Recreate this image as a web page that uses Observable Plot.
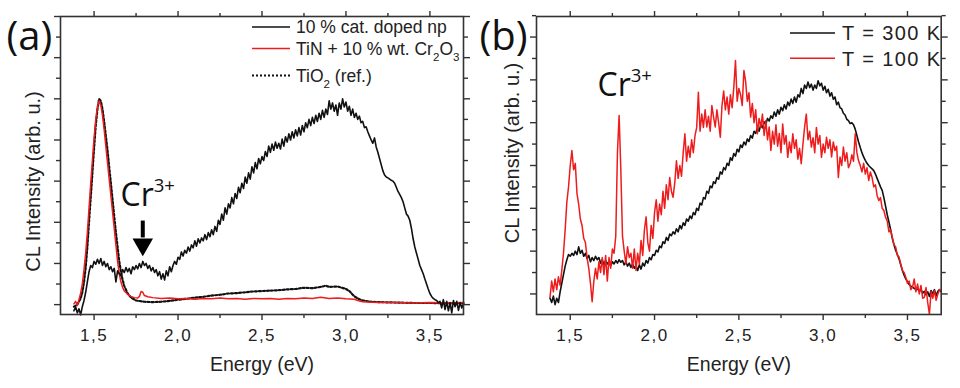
<!DOCTYPE html>
<html><head><meta charset="utf-8">
<script src="https://cdn.jsdelivr.net/npm/d3@7"></script>
<script src="https://cdn.jsdelivr.net/npm/@observablehq/plot@0.6"></script>
<style>
html,body{margin:0;padding:0;background:#fff;}
#chart{position:relative;width:960px;height:388px;overflow:hidden;background:#fff;}
#chart > svg{position:absolute;top:0;}
g[aria-label="x-axis tick label"] text{letter-spacing:1.5px;}
</style></head><body><div id="chart"></div>
<script>
// ---------- data ----------
const energyStart = 1.38, energyStep = 0.01, energyCount = 233;
const energy = d3.range(energyCount).map(i => Math.round((energyStart + i * energyStep) * 100) / 100);

// panel (a): 10 % cat. doped np (black)
const dopedNp = [-0.15,-0.05,-0.2,-0.1,-0.25,-0.05,0.1,0.3,0.55,0.8,
0.95,0.9,1.05,0.98,1.1,1.0,1.12,0.95,1.05,0.92,
1.0,0.85,0.92,0.8,0.88,0.55,0.82,0.75,0.7,0.85,
0.78,0.9,0.8,0.88,0.75,0.92,0.85,0.95,0.87,1.0,
0.9,1.05,0.95,1.0,0.88,0.95,0.82,0.9,0.78,0.85,
0.7,0.8,0.62,0.75,0.6,0.82,0.7,0.92,0.8,0.95,
1.05,0.98,1.15,1.1,1.28,1.18,1.32,1.25,1.4,1.3,
1.45,1.38,1.55,1.42,1.6,1.5,1.62,1.55,1.7,1.58,
1.75,1.65,1.82,1.7,1.9,1.78,2.05,1.95,2.2,2.05,
2.35,2.2,2.45,2.35,2.6,2.45,2.7,2.58,2.85,2.72,
2.95,2.82,3.1,2.95,3.2,3.05,3.35,3.2,3.45,3.3,
3.55,3.42,3.6,3.5,3.72,3.6,3.85,3.7,3.9,3.75,
3.95,3.8,3.92,3.78,4.02,3.85,4.08,3.95,4.15,4.0,
4.2,4.05,4.25,4.1,4.3,4.12,4.35,4.2,4.42,4.3,
4.5,4.35,4.55,4.4,4.6,4.45,4.65,4.5,4.72,4.55,
4.75,4.62,4.95,4.75,4.9,4.7,4.85,4.6,4.9,4.75,
5.0,4.8,4.92,4.7,4.82,4.6,4.75,4.55,4.65,4.5,
4.58,4.42,4.45,4.3,4.32,4.2,4.1,4.0,3.92,4.05,
3.83,3.7,3.55,3.4,3.25,3.15,3.1,3.08,3.05,3.02,
3.0,2.95,2.85,2.75,2.68,2.6,2.5,2.35,2.2,2.15,
2.05,1.85,1.6,1.4,1.25,1.1,0.95,0.85,0.75,0.62,
0.5,0.38,0.27,0.2,0.15,0.12,0.1,0.05,0.08,-0.08,
0.12,-0.12,0.08,-0.15,0.05,-0.2,0.1,-0.05,0.08,-0.14,
0.05,-0.08,0.03];

// panel (a): TiN + 10 % wt. Cr2O3 (red)
const tinEnergy = [1.38,1.39,1.40,1.41,1.42,1.43,1.44,1.45,1.46,1.47,1.48,1.49,1.50,1.51,1.52,1.53,1.54,1.55,1.56,1.57,1.58,1.59,1.60,1.61,1.62,1.63,1.64,1.65,1.66,1.67,1.68,
1.70,1.72,1.74,1.76,1.77,1.78,1.79,1.80,1.82,1.85,
1.90,1.95,2.00,2.05,2.10,2.15,2.20,2.25,2.30,2.35,2.40,2.45,2.50,2.55,2.60,2.65,2.70,2.75,2.80,2.85,2.90,2.95,3.00,3.05,
3.08,3.10,3.15,3.20,3.30,3.40,3.50,3.60,3.70];
const tinIntensity = [0.02,0.08,-0.02,0.12,0.28,0.5,0.85,1.25,1.75,2.35,2.95,3.5,4.05,4.5,4.8,4.95,4.85,4.6,4.25,3.85,3.45,3.05,2.65,2.25,1.85,1.45,1.05,0.75,0.55,0.42,0.33,
0.25,0.2,0.17,0.16,0.2,0.32,0.3,0.22,0.19,0.17,
0.15,0.16,0.14,0.15,0.13,0.15,0.14,0.16,0.14,0.15,0.13,0.15,0.14,0.15,0.13,0.15,0.14,0.16,0.15,0.18,0.15,0.16,0.14,0.13,
0.09,0.07,0.06,0.05,0.05,0.04,0.05,0.04,0.05];

// panel (a): TiO2 (ref.) (dotted)
const tio2Energy = [1.38,1.40,1.42,1.43,1.44,1.45,1.46,1.47,1.48,1.49,1.50,1.51,1.52,1.53,1.54,1.55,1.56,1.57,1.58,1.59,1.60,1.61,1.62,1.63,1.64,1.65,1.66,1.67,1.68,
1.70,1.72,1.75,1.80,1.85,1.90,1.95,2.00,2.05,2.10,2.15,2.20,2.25,2.30,2.35,2.40,2.45,2.50,2.55,2.60,2.65,2.70,2.75,2.80,2.85,2.88,2.90,2.95,3.00,3.02,3.05,3.08,3.10,3.15,3.20,3.30,3.40,3.50,3.60,3.70];
const tio2Intensity = [-0.05,0.0,0.15,0.3,0.55,0.9,1.4,2.0,2.6,3.2,3.8,4.35,4.75,5.0,4.95,4.75,4.45,4.1,3.75,3.35,2.95,2.55,2.15,1.75,1.4,1.05,0.8,0.6,0.45,
0.27,0.17,0.1,0.07,0.06,0.07,0.09,0.12,0.14,0.17,0.19,0.22,0.24,0.27,0.28,0.3,0.32,0.33,0.34,0.35,0.37,0.38,0.41,0.4,0.43,0.46,0.43,0.44,0.38,0.33,0.2,0.13,0.1,0.07,0.06,0.05,0.04,0.04,0.03,0.04];

// panel (b): T = 300 K (black)
const t300 = [-0.1,-0.2,-0.05,-0.25,-0.1,-0.2,0.05,0.25,0.45,0.65,
0.8,0.92,0.88,0.95,0.9,1.0,0.92,1.1,0.95,1.02,
0.88,0.95,0.82,0.9,0.75,0.85,0.78,0.88,0.8,0.85,
0.72,0.8,0.68,0.78,0.7,0.76,0.66,0.75,0.7,0.78,
0.72,0.8,0.74,0.78,0.68,0.75,0.65,0.72,0.62,0.7,
0.6,0.66,0.55,0.68,0.58,0.72,0.65,0.78,0.72,0.85,
0.8,0.92,0.9,1.02,0.98,1.12,1.08,1.22,1.18,1.32,
1.25,1.4,1.36,1.45,1.4,1.52,1.45,1.6,1.52,1.66,
1.6,1.75,1.7,1.82,1.76,1.9,1.85,2.0,1.95,2.12,
2.08,2.25,2.22,2.4,2.35,2.52,2.48,2.62,2.58,2.72,
2.68,2.85,2.8,2.95,2.9,3.05,3.0,3.18,3.12,3.28,
3.22,3.38,3.32,3.48,3.42,3.55,3.48,3.62,3.56,3.7,
3.64,3.8,3.75,3.88,3.8,3.95,3.88,4.02,3.96,4.1,
4.04,4.16,4.1,4.25,4.15,4.3,4.2,4.36,4.28,4.42,
4.32,4.48,4.4,4.55,4.45,4.6,4.48,4.65,4.6,4.8,
4.68,4.88,4.8,4.95,4.82,4.9,4.76,4.88,4.8,4.98,
4.86,4.92,4.76,4.85,4.7,4.78,4.62,4.7,4.55,4.6,
4.42,4.48,4.35,4.32,4.22,4.18,4.08,4.05,3.98,4.0,
3.95,3.85,3.7,3.55,3.42,3.3,3.2,3.12,3.05,3.0,
2.96,2.92,2.88,2.8,2.7,2.6,2.5,2.42,2.25,2.05,
1.85,1.68,1.5,1.3,1.15,1.02,0.92,0.82,0.68,0.55,
0.44,0.35,0.28,0.22,0.18,0.16,0.13,0.1,0.12,0.06,
0.1,0.02,0.06,-0.02,0.05,-0.06,0.08,0.0,0.1,-0.04,
0.06,0.1,0.05];

// panel (b): T = 100 K (red)
const t100 = [-0.08,0.3,0.05,0.35,0.1,0.4,0.2,0.55,0.95,1.5,
2.15,2.5,3.0,3.35,2.9,3.05,2.35,2.1,1.75,1.6,
1.3,1.2,0.85,0.6,0.25,-0.18,0.3,0.6,0.35,0.75,
0.5,0.85,0.45,0.9,0.3,0.85,0.6,1.05,0.95,1.35,
3.3,4.17,2.9,1.35,1.0,0.7,1.1,0.85,0.95,0.6,
1.05,0.55,0.95,0.7,1.25,0.9,1.5,1.8,1.2,1.0,
1.6,1.3,1.9,2.2,1.7,2.1,1.85,2.4,2.0,2.55,
2.2,2.72,2.4,2.26,2.6,3.11,2.7,3.0,2.75,3.3,
3.74,3.1,3.45,3.19,3.6,3.3,3.7,3.89,4.71,3.8,
4.2,3.89,4.3,3.9,4.15,3.8,4.4,4.13,3.9,4.3,
4.0,3.66,4.4,4.74,4.3,4.6,4.2,4.65,4.35,4.82,
5.45,4.5,4.8,4.66,4.4,5.22,4.97,4.5,4.7,4.13,
4.45,4.0,4.3,3.74,4.1,3.9,4.2,3.7,4.05,3.6,
3.9,3.35,3.8,3.5,3.95,3.45,3.75,3.3,3.97,3.5,
3.7,3.19,3.55,3.3,3.74,3.4,3.6,3.15,3.4,3.04,
3.5,3.9,4.2,3.6,3.8,3.43,3.65,3.3,3.89,3.5,
3.7,3.19,3.5,3.3,3.66,3.4,3.6,3.2,3.55,3.35,
3.45,2.72,3.2,3.0,3.43,3.1,3.3,2.95,3.04,3.25,
3.1,3.74,3.3,3.11,3.0,2.85,3.05,2.8,2.95,2.65,
2.85,2.72,2.5,2.55,2.3,2.18,2.25,2.0,1.95,1.79,
1.7,1.45,1.5,1.32,1.15,1.1,0.9,0.86,0.7,0.55,
0.5,0.39,0.25,0.3,0.1,0.16,0.35,0.05,0.23,0.0,
0.2,-0.1,-0.08,0.15,-0.2,-0.47,0.05,-0.1,0.08,-0.15,
0.0,0.1,0.05];

// axis ticks and labels
const xTicksMajor = [1.5, 2.0, 2.5, 3.0, 3.5];
const xTicksMinor = [1.75, 2.25, 2.75, 3.25];
const yTicksMajorA = [0, 1, 2, 3, 4, 5, 6, 7];
const yTicksMajorB = [0, 1, 2, 3, 4, 5, 6];
const yTicksMinor = [0.5, 1.5, 2.5, 3.5, 4.5, 5.5, 6.5];
const seriesLabelsA = ["10 % cat. doped np", "TiN + 10 % wt. Cr_{2}O_{3}", "TiO_{2} (ref.)"];
const seriesLabelsB = ["T = 300 K", "T = 100 K"];
const crArrow = [{energy: 1.79, top: 2.03, headBase: 1.62, head: 1.46}];

// ---------- helpers ----------
const RED = "#ee1c1c", BLACK = "#111", AXIS = "#333";
const fmt = d => d.toFixed(1).replace(".", ",");
const zipRows = (xs, ys) => xs.slice(0, Math.min(xs.length, ys.length)).map((e, i) => ({e, v: ys[i]}));
const sans = "'Liberation Sans', Arial, sans-serif";
const cal = "'Open Sans', Lato, sans-serif";
const DOTS = "2,2";

function frameAxes(yMajor) {
  const common = {stroke: AXIS, strokeWidth: 1.4, label: null};
  return [
    Plot.axisX({...common, anchor: "bottom", ticks: xTicksMajor, tickSize: 6, tickPadding: 8, tickFormat: fmt, fill: "#222", fontSize: 17}),
    Plot.axisX({...common, anchor: "bottom", ticks: xTicksMinor, tickSize: 4, fill: "none"}),
    Plot.axisX({...common, anchor: "top", ticks: xTicksMajor, tickSize: 6, fill: "none"}),
    Plot.axisX({...common, anchor: "top", ticks: xTicksMinor, tickSize: 4, fill: "none"}),
    Plot.axisY({...common, anchor: "left", ticks: yMajor, tickSize: 6, fill: "none"}),
    Plot.axisY({...common, anchor: "left", ticks: yTicksMinor, tickSize: 4, fill: "none"}),
    Plot.axisY({...common, anchor: "right", ticks: yMajor, tickSize: 6, fill: "none"}),
    Plot.axisY({...common, anchor: "right", ticks: yTicksMinor, tickSize: 4, fill: "none"}),
    Plot.frame({stroke: AXIS, strokeWidth: 1.6})
  ];
}

function axisLabels(dxY, dyY) {
  return [
    Plot.text(["Energy (eV)"], {text: d => d, frameAnchor: "bottom", dy: 56.5, lineAnchor: "bottom", fontSize: 19.5, fontFamily: sans, fill: "#222"}),
    Plot.text(["CL Intensity (arb. u.)"], {text: d => d, frameAnchor: "left", dx: dxY, dy: dyY, rotate: -90, lineAnchor: "bottom", textAnchor: "middle", fontSize: 20, fontFamily: sans, fill: "#222"})
  ];
}

// ---------- panel (a) ----------
const plotA = Plot.plot({
  width: 480, height: 388,
  marginLeft: 60, marginRight: 17, marginTop: 16, marginBottom: 74,
  x: {domain: [1.3, 3.7]},
  y: {domain: [-0.24, 7.0]},
  style: {fontFamily: sans, fontSize: "17px", color: "#222", background: "transparent", overflow: "visible"},
  marks: [
    Plot.line(zipRows(tio2Energy, tio2Intensity), {x: "e", y: "v", stroke: BLACK, strokeWidth: 2.2, strokeDasharray: DOTS}),
    Plot.line(zipRows(tinEnergy, tinIntensity), {x: "e", y: "v", stroke: RED, strokeWidth: 1.5}),
    Plot.line(zipRows(energy, dopedNp), {x: "e", y: "v", stroke: BLACK, strokeWidth: 1.6}),
    Plot.ruleX(crArrow, {x: "energy", y1: "top", y2: "headBase", stroke: "#000", strokeWidth: 4}),
    Plot.dot(crArrow, {x: "energy", y: "head", symbol: "triangle", r: 7.6, rotate: 180, fill: "#000", stroke: "none"}),
    Plot.text(["Cr^{3+}"], {text: d => d, frameAnchor: "top-left", dx: 60, dy: 189, lineAnchor: "bottom", textAnchor: "start", fontSize: 32, fontFamily: cal, fill: "#111"}),
    Plot.text(["(a)"], {text: d => d, frameAnchor: "top-left", dx: -54, dy: 33.5, lineAnchor: "bottom", textAnchor: "start", fontSize: 40, fontFamily: cal, fill: "#111"}),
    ...axisLabels(-20.5, 16),
    ...frameAxes(yTicksMajorA)
  ]
});

// ---------- panel (b) ----------
const plotB = Plot.plot({
  width: 480, height: 388,
  marginLeft: 56, marginRight: 19.3, marginTop: 16, marginBottom: 74,
  x: {domain: [1.3, 3.7]},
  y: {domain: [-0.48, 6.48]},
  style: {fontFamily: sans, fontSize: "17px", color: "#222", background: "transparent", overflow: "visible"},
  marks: [
    Plot.line(zipRows(energy, t300), {x: "e", y: "v", stroke: BLACK, strokeWidth: 1.6}),
    Plot.line(zipRows(energy, t100), {x: "e", y: "v", stroke: RED, strokeWidth: 1.5}),
    Plot.text(["Cr^{3+}"], {text: d => d, frameAnchor: "top-left", dx: 61, dy: 79, lineAnchor: "bottom", textAnchor: "start", fontSize: 32, fontFamily: cal, fill: "#111"}),
    Plot.text(["(b)"], {text: d => d, frameAnchor: "top-left", dx: -57, dy: 33.5, lineAnchor: "bottom", textAnchor: "start", fontSize: 40, fontFamily: cal, fill: "#111"}),
    ...axisLabels(-18, -12.5),
    ...frameAxes(yTicksMajorB)
  ]
});

const chart = document.getElementById("chart");
plotA.style.left = "0px";
plotB.style.left = "480px";
chart.appendChild(plotA);
chart.appendChild(plotB);

// ---------- legends (inside each frame) ----------
function legend(svg, items, opt) {
  const g = d3.select(svg).append("g").attr("class", "legend")
    .style("text-anchor", "start").style("font-family", sans).style("font-size", opt.fontSize + "px");
  items.forEach(it => {
    g.append("line").attr("x1", opt.x0).attr("x2", opt.x1).attr("y1", it.y).attr("y2", it.y)
      .attr("stroke", it.stroke).attr("stroke-width", it.width || 1.5)
      .attr("stroke-dasharray", it.dash || null);
    g.append("text").attr("x", opt.xt).attr("y", it.y + opt.base)
      .style("text-anchor", "start").style("font-family", sans).style("font-size", opt.fontSize + "px")
      .style("letter-spacing", (opt.spacing || 0) + "px")
      .attr("fill", "#222")
      .text(it.label);
  });
}
legend(plotA, [
  {label: seriesLabelsA[0], stroke: BLACK, y: 27},
  {label: seriesLabelsA[1], stroke: RED, y: 48.5},
  {label: seriesLabelsA[2], stroke: BLACK, y: 75.5, dash: DOTS, width: 2.2}
], {x0: 252, x1: 290, xt: 296, base: 6.3, fontSize: 17.5});
legend(plotB, [
  {label: seriesLabelsB[0], stroke: BLACK, y: 33},
  {label: seriesLabelsB[1], stroke: RED, y: 58.3}
], {x0: 310, x1: 355, xt: 362, base: 7.2, fontSize: 20, spacing: 1.4});

// ---------- superscripts / subscripts as tspans ----------
function fixScripts(root) {
  root.querySelectorAll("text").forEach(t => {
    const s = t.textContent;
    if (!/[\^_]\{/.test(s)) return;
    const fs = parseFloat(getComputedStyle(t).fontSize);
    const parts = s.split(/([\^_]\{[^}]*\})/).filter(p => p);
    while (t.firstChild) t.removeChild(t.firstChild);
    let shift = 0;
    for (const p of parts) {
      const ts = document.createElementNS("http://www.w3.org/2000/svg", "tspan");
      let target = 0, size = null, txt = p;
      if (p[0] === "^") { target = -0.41 * fs; size = 0.58 * fs; txt = p.slice(2, -1); }
      else if (p[0] === "_") { target = 0.34 * fs; size = 0.66 * fs; txt = p.slice(2, -1); }
      const d = target - shift; shift = target;
      if (d) ts.setAttribute("dy", d.toFixed(2));
      if (size) ts.style.fontSize = size.toFixed(2) + "px";
      ts.textContent = txt;
      t.appendChild(ts);
    }
  });
}
fixScripts(plotA);
fixScripts(plotB);
</script></body></html>
